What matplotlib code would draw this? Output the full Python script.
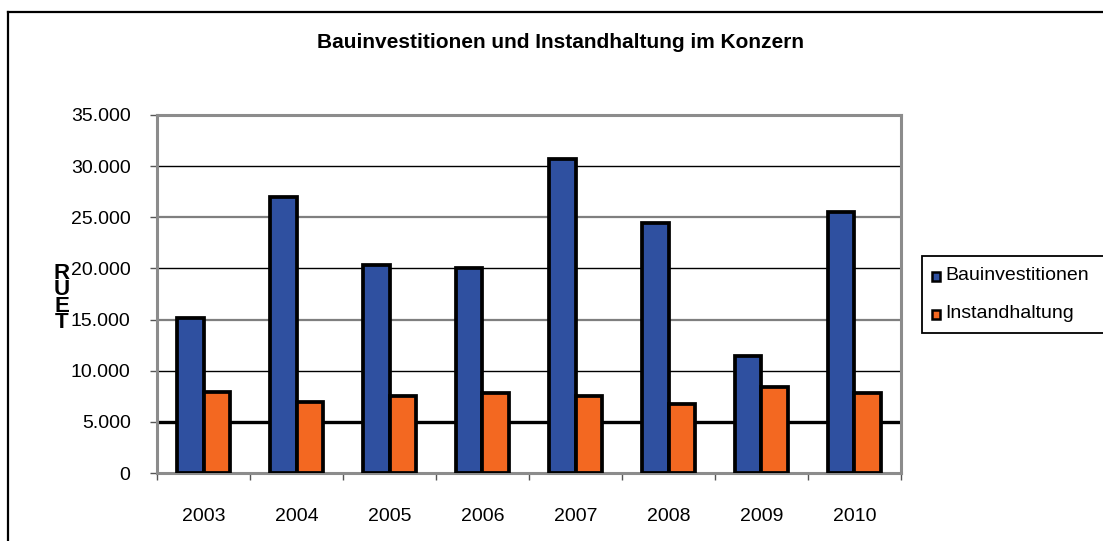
import matplotlib.pyplot as plt
from matplotlib.patches import Rectangle
from matplotlib.lines import Line2D
from matplotlib.ticker import FuncFormatter
import numpy as np

plt.rcParams['font.family'] = ['Liberation Sans', 'DejaVu Sans']

# Daten
jahre = ['2003', '2004', '2005', '2006', '2007', '2008', '2009', '2010']
bauinvestitionen = [15150, 27000, 20300, 20000, 30650, 24450, 11400, 25500]
instandhaltung = [7950, 6950, 7500, 7800, 7500, 6700, 8400, 7800]
serien = ['Bauinvestitionen', 'Instandhaltung']
farben = ['#2F50A0', '#F36821']
y_ticks = [0, 5000, 10000, 15000, 20000, 25000, 30000, 35000]

W, H = 1103, 541
fig = plt.figure(figsize=(W / 100, H / 100), dpi=100)
ax = fig.add_axes([157 / W, 68 / H, 744 / W, 358 / H])

x = np.arange(len(jahre))
bw = 0.29
ax.bar(x, bauinvestitionen, width=-bw, align='edge', color=farben[0],
       edgecolor='black', linewidth=2.7, zorder=3)
ax.bar(x, instandhaltung, width=bw, align='edge', color=farben[1],
       edgecolor='black', linewidth=2.7, zorder=3)

# Gitterlinien (abwechselnd schwarz / grau, 5.000 dick)
for v in y_ticks[1:-1]:
    if v == 5000:
        ax.axhline(v, color='black', lw=2.4, zorder=1)
    elif v in (15000, 25000):
        ax.axhline(v, color='#7f7f7f', lw=1.6, zorder=1)
    else:
        ax.axhline(v, color='black', lw=1.0, zorder=1)

ax.set_xlim(-0.5, len(jahre) - 0.5)
ax.set_ylim(0, 35000)
ax.set_yticks(y_ticks)
ax.yaxis.set_major_formatter(FuncFormatter(lambda v, p: f'{int(v):,}'.replace(',', '.')))
ax.tick_params(axis='y', labelsize=14, length=5, width=1, pad=14, color='#555555')

ax.set_xticks(x)
ax.set_xticklabels(jahre)
ax.set_xticks(np.arange(len(jahre) + 1) - 0.5, minor=True)
ax.tick_params(axis='x', which='major', length=0, labelsize=14, pad=25)
ax.tick_params(axis='x', which='minor', length=5, width=1, color='#555555')

for s in ax.spines.values():
    s.set_color('#8c8c8c')
    s.set_linewidth(2.2)

# Achsenbeschriftung
fig.text(62 / W, 1 - 298 / H, 'R\nU\nE\nT', fontsize=16, fontweight='bold',
         ha='center', va='center', linespacing=0.7)

# Titel
fig.text(560 / W, 1 - 42 / H, 'Bauinvestitionen und Instandhaltung im Konzern',
         fontsize=15, fontweight='bold', ha='center', va='center')

# Legende
fig.add_artist(Rectangle((922 / W, 1 - 333 / H), 200 / W, 77 / H,
                         transform=fig.transFigure, facecolor='white',
                         edgecolor='black', lw=1.3, clip_on=False))
for i, (name, col) in enumerate(zip(serien, farben)):
    yc = 276 + i * 38
    fig.add_artist(Rectangle((932 / W, 1 - (yc + 4.5) / H), 8 / W, 9 / H,
                             transform=fig.transFigure, facecolor=col,
                             edgecolor='black', lw=1.8))
    fig.text(945 / W, 1 - yc / H, name, fontsize=14, ha='left', va='center')

# Rahmen
fig.add_artist(Line2D([8 / W, 8 / W], [0, 1 - 12 / H], color='black', lw=1.6,
                      transform=fig.transFigure))
fig.add_artist(Line2D([8 / W, 1], [1 - 12 / H, 1 - 12 / H], color='black', lw=1.6,
                      transform=fig.transFigure))

fig.savefig('out.png', dpi=100)
